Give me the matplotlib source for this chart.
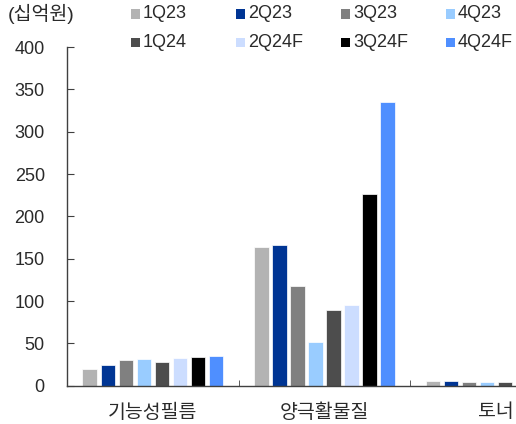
import matplotlib
matplotlib.use("Agg")
import matplotlib.pyplot as plt
import numpy as np
from matplotlib.patches import Rectangle

plt.rcParams['font.family'] = ['Liberation Sans', 'Noto Sans CJK KR', 'DejaVu Sans']

categories = ['기능성필름', '양극활물질', '토너']
series = ['1Q23', '2Q23', '3Q23', '4Q23', '1Q24', '2Q24F', '3Q24F', '4Q24F']
colors = ['#B3B3B3', '#003594', '#808080', '#99CCFF', '#4D4D4D', '#CCDDFF', '#000000', '#4F8FFF']
values = {
    '1Q23':  [20, 164, 6],
    '2Q23':  [24, 166, 5],
    '3Q23':  [30, 118, 4.5],
    '4Q23':  [31.5, 52, 4.5],
    '1Q24':  [28, 89, 4],
    '2Q24F': [33, 95, 4],
    '3Q24F': [34, 226, 4],
    '4Q24F': [35, 335, 4],
}
yticks = [0, 50, 100, 150, 200, 250, 300, 350, 400]
unit_label = '(십억원)'

W, H = 516, 424
fig = plt.figure(figsize=(W / 100, H / 100), dpi=100)
ax = fig.add_axes([67 / W, 38.3 / H, 514.5 / W, 338.7 / H])

x = np.arange(len(categories))
pitch = 18 / 171.5
bw = 14.5 / 171.5
for j, s in enumerate(series):
    ax.bar(x + (j - 3.5) * pitch, values[s], width=bw, color=colors[j],
           edgecolor='white', linewidth=0.5, zorder=2)

ax.set_xlim(-0.5, len(categories) - 0.5)
ax.set_ylim(0, 400)
ax.set_yticks(yticks)
ax.set_yticklabels([str(v) for v in yticks], fontsize=13, color='#2a2a2a')
ax.set_xticks(x)
ax.set_xticklabels(categories, fontsize=14, color='#2a2a2a')
ax.set_xticks(np.arange(len(categories) + 1) - 0.5, minor=True)
ax.tick_params(axis='x', which='major', length=0, pad=13)
ax.tick_params(axis='x', which='minor', direction='in', length=4, color='#404040')
ax.tick_params(axis='y', direction='in', length=5, color='#404040', pad=16)
for sp in ['top', 'right']:
    ax.spines[sp].set_visible(False)
for sp in ['left', 'bottom']:
    ax.spines[sp].set_color('#404040')
    ax.spines[sp].set_linewidth(1)

# unit label
fig.text(8 / W, 1 - 14 / H, unit_label, fontsize=14, color='#2a2a2a', va='center', ha='left')

# legend (manual, 2 rows x 4 cols)
for j, s in enumerate(series):
    col, row = j % 4, j // 4
    lx = 131 + col * 105
    ly = 14 + row * 28.5
    fig.add_artist(Rectangle(((lx) / W, 1 - (ly + 4.5) / H), 9 / W, 9 / H,
                             transform=fig.transFigure, color=colors[j], lw=0))
    fig.text((lx + 12) / W, 1 - ly / H, s, fontsize=13, color='#2a2a2a',
             va='center', ha='left')

fig.savefig('out.png', dpi=100)
